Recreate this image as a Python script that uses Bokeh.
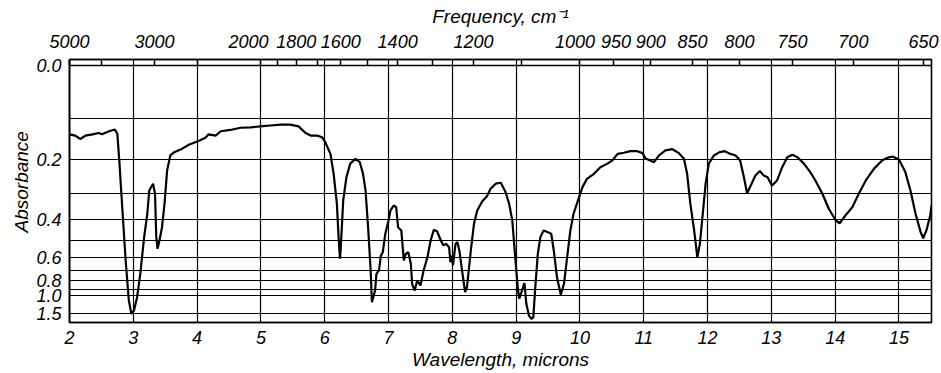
import math
from bokeh.plotting import figure
from bokeh.models import Range1d, FixedTicker, LinearAxis, Span, Title
from bokeh.embed import file_html
from bokeh.resources import INLINE

# ---- data (wavelength in microns, absorbance) ----
wavelength_um = [
    2.00, 2.09, 2.17, 2.25, 2.36, 2.46, 2.51, 2.62, 2.71, 2.75,
    2.78, 2.83, 2.88, 2.93, 2.97, 3.01, 3.06, 3.11, 3.17, 3.22,
    3.25, 3.31, 3.34, 3.36, 3.38, 3.41, 3.45, 3.49, 3.53, 3.58,
    3.64, 3.74, 3.87, 4.03, 4.13, 4.18, 4.29,
    4.37, 4.52, 4.68, 4.84, 4.99, 5.15, 5.31, 5.46, 5.59, 5.70,
    5.78, 5.88, 5.96, 6.01, 6.09, 6.14, 6.19, 6.22, 6.24, 6.26,
    6.29, 6.34, 6.40, 6.48, 6.55,
    6.60, 6.64, 6.68, 6.72, 6.74, 6.79, 6.81, 6.85, 6.88, 6.91,
    6.95, 7.00, 7.03, 7.08, 7.12, 7.15, 7.20, 7.24, 7.27, 7.31,
    7.35, 7.37, 7.41, 7.45, 7.50, 7.55, 7.61, 7.66, 7.71, 7.76,
    7.82, 7.86, 7.90, 7.95, 7.97, 8.00, 8.01, 8.05, 8.08, 8.11,
    8.16, 8.20, 8.23, 8.29, 8.34, 8.39, 8.47, 8.54, 8.60, 8.68,
    8.76, 8.83,
    8.89, 8.94, 8.99, 9.03, 9.05, 9.10, 9.13, 9.16, 9.20, 9.24,
    9.27, 9.30, 9.34, 9.38, 9.43, 9.49, 9.55, 9.59, 9.64, 9.70,
    9.75, 9.80, 9.85, 9.90, 9.97, 10.04, 10.11, 10.22, 10.32, 10.43,
    10.51, 10.59, 10.69, 10.79, 10.90, 10.98,
    11.03, 11.16, 11.24, 11.34, 11.45, 11.55, 11.63, 11.68, 11.73, 11.79,
    11.84, 11.88, 11.93, 11.97, 12.02, 12.10, 12.18, 12.27, 12.36, 12.44,
    12.51, 12.57, 12.62, 12.69, 12.75, 12.82, 12.88, 12.94, 13.01, 13.09,
    13.17, 13.25, 13.33,
    13.41, 13.51, 13.61, 13.69, 13.80, 13.90, 14.01, 14.07, 14.16, 14.27,
    14.37, 14.48, 14.61, 14.74, 14.84, 14.90, 15.00, 15.10, 15.18, 15.26,
    15.34, 15.38, 15.43, 15.49, 15.51,
]
absorbance = [
    0.136, 0.139, 0.147, 0.139, 0.136, 0.133, 0.136, 0.129, 0.125, 0.135,
    0.201, 0.363, 0.623, 1.086, 1.522, 1.367, 1.023, 0.727, 0.482, 0.375,
    0.291, 0.269, 0.302, 0.482, 0.547, 0.500, 0.434, 0.336, 0.229, 0.188,
    0.180, 0.173, 0.161, 0.151, 0.144, 0.136, 0.139,
    0.129, 0.126, 0.121, 0.120, 0.118, 0.116, 0.114, 0.114, 0.118, 0.133,
    0.139, 0.139, 0.143, 0.155, 0.184, 0.239, 0.336, 0.500, 0.611, 0.482,
    0.325, 0.249, 0.210, 0.197, 0.206,
    0.239, 0.291, 0.434, 0.701, 1.123, 0.917, 0.730, 0.701, 0.589, 0.568,
    0.465, 0.404, 0.363, 0.344, 0.350, 0.434, 0.449, 0.623, 0.578, 0.568,
    0.647, 0.832, 0.917, 0.796, 0.852, 0.701, 0.600, 0.500, 0.446, 0.453,
    0.500, 0.527, 0.518, 0.537, 0.635, 0.589, 0.660, 0.518, 0.509, 0.557,
    0.730, 0.941, 0.873, 0.557, 0.418, 0.363, 0.328, 0.311, 0.285, 0.269,
    0.266, 0.294,
    0.337, 0.404, 0.623, 0.917, 1.052, 0.894, 0.825, 1.160, 1.630, 2.000,
    1.775, 0.873, 0.578, 0.482, 0.449, 0.457, 0.465, 0.557, 0.762, 0.982,
    0.832, 0.600, 0.449, 0.376, 0.325, 0.280, 0.254, 0.239, 0.220, 0.210,
    0.201, 0.184, 0.181, 0.177, 0.177, 0.182,
    0.196, 0.206, 0.188, 0.175, 0.172, 0.182, 0.197, 0.239, 0.337, 0.449,
    0.600, 0.518, 0.363, 0.269, 0.210, 0.188, 0.180, 0.177, 0.184, 0.188,
    0.201, 0.249, 0.300, 0.269, 0.244, 0.231, 0.244, 0.249, 0.275, 0.259,
    0.220, 0.193, 0.186,
    0.193, 0.210, 0.234, 0.259, 0.302, 0.356, 0.404, 0.416, 0.383, 0.350,
    0.302, 0.259, 0.224, 0.201, 0.193, 0.191, 0.199, 0.234, 0.291, 0.376,
    0.457, 0.488, 0.449, 0.383, 0.344,
]

wavelength_ticks = [2, 3, 4, 5, 6, 7, 8, 9, 10, 11, 12, 13, 14, 15]
freq_ticks = [5000, 4000, 3000, 2500, 2000, 1900, 1800, 1700, 1600, 1500,
              1400, 1300, 1200, 1100, 1000, 950, 900, 850, 800, 750, 700, 650]
freq_labelled = [5000, 3000, 2000, 1800, 1600, 1400, 1200, 1000, 950, 900,
                 850, 800, 750, 700, 650]
abs_labels = [0.0, 0.2, 0.4, 0.6, 0.8, 1.0, 1.5]
abs_grid = [0.1, 0.2, 0.3, 0.4, 0.5, 0.6, 0.7, 0.8, 0.9, 1.0, 1.5]

# chart paper is linear in transmittance: position = 10^-A
def pos(a):
    return 10 ** (-a)

ypos = [pos(a) for a in absorbance]

FONT = "Liberation Sans"
NB = "\u00a0"

def freq_label(f):
    if f not in freq_labelled:
        return ""
    s = str(f)
    if f == 2000:          # printed shifted left of its tick in the original
        s = s + NB * 5
    elif f == 1000:
        s = s + NB * 2
    elif f == 950:
        s = NB + s
    return s

p = figure(width=941, height=373,
           x_range=Range1d(2, 15.51), y_range=Range1d(-0.004, 1.0234),
           output_backend="svg", toolbar_location=None,
           min_border_left=69, min_border_right=10,
           min_border_top=59, min_border_bottom=51)
p.background_fill_color = "white"
p.border_fill_color = "white"
p.outline_line_color = "black"
p.outline_line_width = 1.6

# bottom axis (wavelength)
p.xaxis.ticker = FixedTicker(ticks=wavelength_ticks)
p.xaxis.axis_label = "Wavelength, microns"
p.xgrid.ticker = FixedTicker(ticks=wavelength_ticks)

# left axis (absorbance)
p.yaxis.ticker = FixedTicker(ticks=[pos(a) for a in abs_labels])
p.yaxis.major_label_overrides = {pos(a): f"{a:.1f}" for a in abs_labels}
p.ygrid.ticker = FixedTicker(ticks=[pos(a) for a in abs_grid])

# top axis (frequency)
top = LinearAxis(
    ticker=FixedTicker(ticks=[10000 / f for f in freq_ticks]),
    major_label_overrides={10000 / f: freq_label(f) for f in freq_ticks},
    axis_label="Frequency, cm\u207b\u00b9",
)
p.add_layout(top, "above")

for ax in p.axis:
    ax.axis_line_color = "black"
    ax.axis_line_width = 1.6
    ax.major_tick_out = 0
    ax.major_tick_in = 0
    ax.minor_tick_line_color = None
    ax.major_label_text_font = FONT
    ax.major_label_text_font_style = "italic"
    ax.major_label_text_font_size = "18px"
    ax.major_label_text_color = "black"
    ax.axis_label_text_font = FONT
    ax.axis_label_text_font_style = "italic"
    ax.axis_label_text_font_size = "19px"
    ax.axis_label_text_color = "black"

top.major_tick_in = 6
top.major_tick_line_color = "black"
top.major_tick_line_width = 1.5
top.major_label_standoff = 6
top.axis_label_standoff = 5

p.xaxis.major_label_standoff = 8
p.xaxis.axis_label_standoff = 2
p.yaxis.major_label_standoff = 8
p.yaxis.axis_label = None

for g in (p.xgrid, p.ygrid):
    g.grid_line_color = "black"
    g.grid_line_width = 1.2
    g.grid_line_alpha = 1.0

p.add_layout(Span(location=pos(0.0), dimension="width",
                  line_color="black", line_width=1.5))

p.line(wavelength_um, ypos, line_color="black", line_width=2.2)

p.add_layout(Title(text="Absorbance", align="left", offset=90,
                   text_font=FONT, text_font_style="italic",
                   text_font_size="19px", text_color="black",
                   standoff=4), "left")

open("out.html", "w").write(file_html(p, INLINE))
